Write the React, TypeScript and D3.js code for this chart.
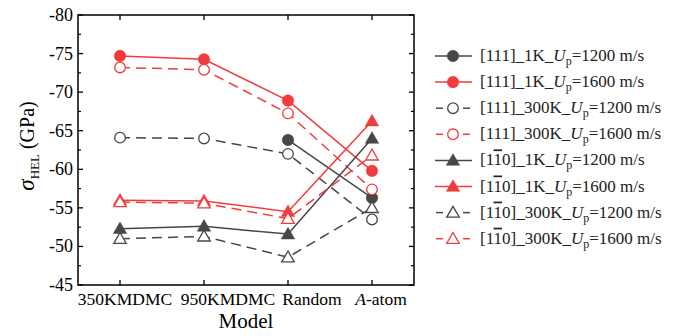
import React from "react";
import * as d3 from "d3";

const categories = ["350KMDMC", "950KMDMC", "Random", "A-atom"];
const yTicks = [-80, -75, -70, -65, -60, -55, -50, -45];

const s111_1K_1200 = [null, null, -63.8, -56.3];
const s111_1K_1600 = [-74.7, -74.25, -68.9, -59.8];
const s111_300K_1200 = [-64.1, -64.0, -62.0, -53.5];
const s111_300K_1600 = [-73.2, -72.9, -67.25, -57.4];
const s110_1K_1200 = [-52.3, -52.6, -51.6, -64.0];
const s110_1K_1600 = [-56.0, -55.9, -54.5, -66.25];
const s110_300K_1200 = [-51.0, -51.3, -48.6, -55.0];
const s110_300K_1600 = [-55.75, -55.6, -53.6, -61.8];

const DARK = "#474747";
const RED = "#f03c3c";
const FONT = "'Liberation Serif', 'Times New Roman', serif";
// horizontal nudges of the category labels relative to their ticks (layout)
const LABEL_NUDGE = [5, 24, 24, 9];

type Series = {
  dir: string; temp: string; up: string;
  values: (number | null)[]; color: string; shape: "circle" | "triangle"; filled: boolean; dashed: boolean;
};

const series: Series[] = [
  { dir: "111", temp: "1K", up: "1200", values: s111_1K_1200, color: DARK, shape: "circle", filled: true, dashed: false },
  { dir: "111", temp: "1K", up: "1600", values: s111_1K_1600, color: RED, shape: "circle", filled: true, dashed: false },
  { dir: "111", temp: "300K", up: "1200", values: s111_300K_1200, color: DARK, shape: "circle", filled: false, dashed: true },
  { dir: "111", temp: "300K", up: "1600", values: s111_300K_1600, color: RED, shape: "circle", filled: false, dashed: true },
  { dir: "110", temp: "1K", up: "1200", values: s110_1K_1200, color: DARK, shape: "triangle", filled: true, dashed: false },
  { dir: "110", temp: "1K", up: "1600", values: s110_1K_1600, color: RED, shape: "triangle", filled: true, dashed: false },
  { dir: "110", temp: "300K", up: "1200", values: s110_300K_1200, color: DARK, shape: "triangle", filled: false, dashed: true },
  { dir: "110", temp: "300K", up: "1600", values: s110_300K_1600, color: RED, shape: "triangle", filled: false, dashed: true },
];

const W = 697, H = 336;
const left = 78, right = 414, top = 15, bottom = 285;

const x = d3.scaleLinear().domain([-0.5, 3.5]).range([left, right]);
const y = d3.scaleLinear().domain([-80, -45]).range([top, bottom]);

const txt = (size: number, extra: React.CSSProperties = {}): React.CSSProperties => ({
  fontFamily: FONT,
  fontSize: size,
  ...extra,
});

function Marker({ cx, cy, s }: { cx: number; cy: number; s: Series }) {
  const fill = s.filled ? s.color : "#fff";
  if (s.shape === "circle") {
    const r = s.filled ? 5.8 : 5.3;
    return <circle cx={cx} cy={cy} r={r} fill={fill} stroke={s.color} strokeWidth={s.filled ? 0.5 : 1.3} />;
  }
  const sym = d3.symbol().type(d3.symbolTriangle).size(s.filled ? 78 : 68)();
  return <path d={sym as string} transform={`translate(${cx},${cy + 1})`} fill={fill} stroke={s.color} strokeWidth={s.filled ? 0.5 : 1.3} />;
}

function Label({ s, xx, yy }: { s: Series; xx: number; yy: number }) {
  return (
    <text x={xx} y={yy} style={txt(17)} fill="#222">
      {s.dir === "111" ? (
        <tspan>[111]</tspan>
      ) : (
        <>
          <tspan>[1</tspan>
          <tspan style={{ textDecoration: "overline" }}>1</tspan>
          <tspan>0]</tspan>
        </>
      )}
      <tspan>{`_${s.temp}_`}</tspan>
      <tspan style={{ fontStyle: "italic" }}>U</tspan>
      <tspan style={{ fontSize: 12 }} dy={4}>p</tspan>
      <tspan dy={-4}>{`=${s.up} m/s`}</tspan>
    </text>
  );
}

export default function App() {
  const line = d3
    .line<number | null>()
    .defined((d) => d !== null)
    .x((_, i) => x(i))
    .y((d) => y(d as number));

  const minorTicks = d3.range(-77.5, -45, 5);
  const legendY0 = 56, legendDY = 26.1;

  return (
    <svg width={W} height={H} style={{ position: "absolute", left: 0, top: 0, background: "#fff" }}>
      <rect x={0} y={0} width={W} height={H} fill="#fff" />
      {series.map((s, k) => (
        <path key={"l" + k} d={line(s.values) as string} fill="none" stroke={s.color}
          strokeWidth={1.5} strokeDasharray={s.dashed ? "10,6" : undefined} />
      ))}
      {series.map((s, k) =>
        s.values.map((v, i) =>
          v === null ? null : <Marker key={`m${k}-${i}`} cx={x(i)} cy={y(v)} s={s} />
        )
      )}
      <rect x={left} y={top} width={right - left} height={bottom - top} fill="none" stroke="#000" strokeWidth={1.5} />
      {yTicks.map((t) => (
        <g key={"yt" + t}>
          <line x1={left} x2={left + 5} y1={y(t)} y2={y(t)} stroke="#000" strokeWidth={1.3} />
          <line x1={right} x2={right - 5} y1={y(t)} y2={y(t)} stroke="#000" strokeWidth={1.3} />
          <text x={left - 5} y={y(t)} dy="0.33em" textAnchor="end" style={txt(18)} fill="#000">
            {t}
          </text>
        </g>
      ))}
      {minorTicks.map((t) => (
        <g key={"ym" + t}>
          <line x1={left} x2={left + 3} y1={y(t)} y2={y(t)} stroke="#000" strokeWidth={1.2} />
          <line x1={right} x2={right - 3} y1={y(t)} y2={y(t)} stroke="#000" strokeWidth={1.2} />
        </g>
      ))}
      {categories.map((c, i) => (
        <g key={"xt" + c}>
          <line x1={x(i)} x2={x(i)} y1={bottom} y2={bottom - 5} stroke="#000" strokeWidth={1.3} />
          <line x1={x(i)} x2={x(i)} y1={top} y2={top + 5} stroke="#000" strokeWidth={1.3} />
          <text x={x(i) + LABEL_NUDGE[i]} y={bottom + 20} textAnchor="middle" style={txt(17.5)} fill="#000">
            {c === "A-atom" ? (
              <>
                <tspan style={{ fontStyle: "italic" }}>A</tspan>
                <tspan>-atom</tspan>
              </>
            ) : (
              c
            )}
          </text>
        </g>
      ))}
      <text x={(left + right) / 2} y={bottom + 43} textAnchor="middle" style={txt(21)} fill="#000">
        Model
      </text>
      <text transform={`translate(34,146) rotate(-90)`} textAnchor="middle" style={txt(20)} fill="#000">
        <tspan style={{ fontStyle: "italic", fontSize: 23 }}>σ</tspan>
        <tspan style={{ fontSize: 13 }} dy={5}>HEL</tspan>
        <tspan dy={-5}> (GPa)</tspan>
      </text>
      {series.map((s, k) => {
        const ly = legendY0 + k * legendDY;
        const mx = 453;
        return (
          <g key={"lg" + k}>
            {s.dashed ? (
              <>
                <line x1={436} x2={443} y1={ly} y2={ly} stroke={s.color} strokeWidth={1.5} />
                <line x1={463} x2={470} y1={ly} y2={ly} stroke={s.color} strokeWidth={1.5} />
              </>
            ) : (
              <line x1={435} x2={472} y1={ly} y2={ly} stroke={s.color} strokeWidth={1.5} />
            )}
            <Marker cx={mx} cy={ly} s={s} />
            <Label s={s} xx={480} yy={ly + 5} />
          </g>
        );
      })}
    </svg>
  );
}
